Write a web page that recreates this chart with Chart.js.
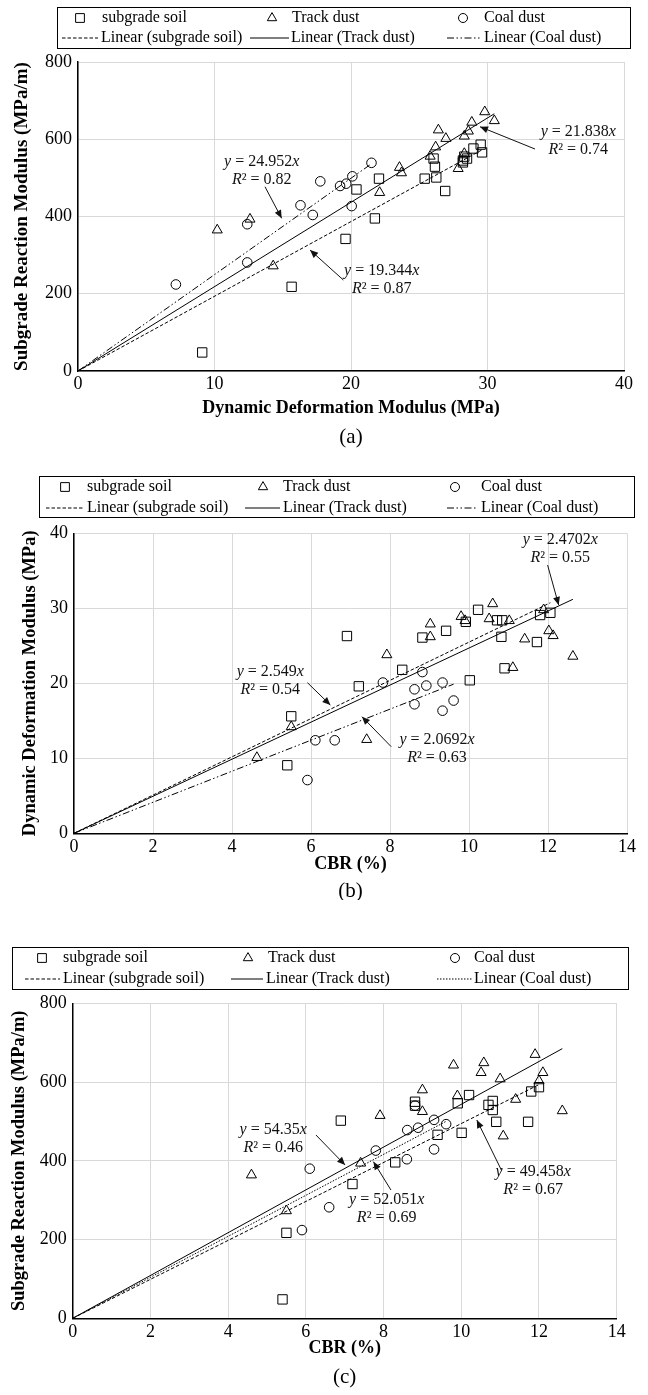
<!DOCTYPE html>
<html><head><meta charset="utf-8">
<script src="https://cdn.jsdelivr.net/npm/chart.js@4.4.1/dist/chart.umd.min.js"></script>
<style>
html,body{margin:0;padding:0;background:#fff;}
body{width:648px;height:1395px;position:relative;overflow:hidden;}
canvas{position:absolute;left:0;}
</style></head><body>
<canvas id="chartA" width="648" height="460" style="top:0px"></canvas>
<canvas id="chartB" width="648" height="440" style="top:460px"></canvas>
<canvas id="chartC" width="648" height="495" style="top:900px"></canvas>
<script>
// ---------------- DATA ----------------
const seriesNames = ['subgrade soil', 'Track dust', 'Coal dust'];
const trendNames = ['Linear (subgrade soil)', 'Linear (Track dust)', 'Linear (Coal dust)'];

// (a) x: Dynamic Deformation Modulus (MPa), y: Subgrade Reaction Modulus (MPa/m)
const subgradeA = [[9.1,48],[15.65,218],[19.6,342],[20.4,470],[21.75,395],[22.05,498],[25.4,498],[26.05,550],[26.15,529],[26.25,501],[26.9,466],[28.2,545],[28.3,555],[28.5,550],[28.2,540],[28.97,576],[29.5,586],[29.6,566]];
const trackA = [[10.2,365],[12.6,393],[14.3,272],[22.1,462],[23.55,527],[23.7,513],[25.8,556],[26.2,580],[26.4,624],[26.95,602],[27.85,524],[28.3,563],[28.3,608],[28.6,621],[28.85,644],[29.8,671],[30.5,648]];
const coalA = [[7.17,224],[12.4,380],[12.4,281],[16.3,429],[17.2,404],[17.75,491],[19.2,479],[19.65,485],[20.1,504],[20.05,427],[21.5,539]];
const slopesA = [19.344, 21.838, 24.952];
const r2A = [0.87, 0.74, 0.82];
const xTicksA = [0, 10, 20, 30, 40];
const yTicksA = [0, 200, 400, 600, 800];

// (b) x: CBR (%), y: Dynamic Deformation Modulus (MPa)
const subgradeB = [[6.91,26.3],[7.21,19.6],[5.5,15.6],[5.4,9.07],[8.31,21.8],[8.82,26.1],[9.42,27.0],[10.23,29.8],[9.92,28.2],[10.71,28.4],[10.84,28.4],[10.82,26.2],[10.9,22.0],[10.02,20.4],[11.72,25.5],[11.8,29.1],[12.06,29.4]];
const trackB = [[4.63,10.1],[5.5,14.2],[7.41,12.5],[7.92,23.8],[9.02,27.9],[9.02,26.2],[9.8,28.9],[9.9,28.35],[10.6,30.6],[10.51,28.6],[11.02,28.35],[11.11,22.1],[11.41,25.9],[11.89,29.8],[12.02,27.0],[12.13,26.35],[12.63,23.6]];
const coalB = [[6.11,12.4],[6.6,12.4],[5.91,7.1],[7.82,20.1],[8.82,21.5],[8.62,19.2],[8.92,19.7],[9.33,20.1],[8.62,17.2],[9.33,16.35],[9.61,17.7]];
const slopesB = [2.549, 2.4702, 2.0692];
const r2B = [0.54, 0.55, 0.63];
const xTicksB = [0, 2, 4, 6, 8, 10, 12, 14];
const yTicksB = [0, 10, 20, 30, 40];

// (c) x: CBR (%), y: Subgrade Reaction Modulus (MPa/m)
const subgradeC = [[6.9,502],[7.2,341],[5.5,217],[5.4,48],[8.3,396],[8.81,550],[8.81,540],[9.39,466],[9.91,546],[10.2,567],[10.01,471],[10.7,542],[10.81,552],[10.81,529],[10.9,499],[11.72,499],[11.8,576],[12.0,587]];
const trackC = [[4.6,364],[5.5,273],[7.41,394],[7.91,515],[9.0,580],[9.0,525],[9.8,643],[9.9,565],[10.58,649],[10.51,624],[11.0,608],[11.08,463],[11.4,556],[11.9,670],[12.1,624],[12.0,603],[12.6,527]];
const coalC = [[6.1,380],[6.6,282],[5.9,224],[7.8,426],[8.61,478],[8.89,484],[9.3,504],[9.61,493],[8.6,404],[9.3,429],[8.81,540]];
const slopesC = [49.458, 54.35, 52.051];
const r2C = [0.67, 0.46, 0.69];
const xTicksC = [0, 2, 4, 6, 8, 10, 12, 14];
const yTicksC = [0, 200, 400, 600, 800];

// ---------------- STYLE / HELPERS ----------------
const FONT = '"Liberation Serif", "Times New Roman", Times, serif';
Chart.defaults.font.family = FONT;
Chart.defaults.color = '#000';

const DASH_SUB = [3.5, 2];
const DASH_DASHDOT = [7, 2.5, 1.5, 2.5, 1.5, 2.5];
const DASH_DOT = [1.5, 1.5];

function pts(arr) { return arr.map(p => ({x: p[0], y: p[1]})); }
function trend(arr, slope) {
  const xm = Math.max(...arr.map(p => p[0]));
  return [{x: 0, y: 0}, {x: xm, y: slope * xm}];
}
function makeDatasets(sub, trk, coal, slopes, coalDash) {
  const mk = (label, data, style, r) => ({
    label, data: pts(data), pointStyle: style, pointRadius: r, pointHoverRadius: r,
    borderColor: '#000', backgroundColor: 'rgba(0,0,0,0)', pointBorderWidth: 1, borderWidth: 1, showLine: false
  });
  const ln = (label, data, slope, dash) => ({
    label, data: trend(data, slope), showLine: true, pointRadius: 0, pointHoverRadius: 0,
    borderColor: '#000', backgroundColor: 'rgba(0,0,0,0)', borderWidth: 1, borderDash: dash, fill: false, tension: 0
  });
  return [
    mk(seriesNames[0], sub, 'rect', 6.6),
    mk(seriesNames[1], trk, 'triangle', 5.8),
    mk(seriesNames[2], coal, 'circle', 4.8),
    ln(trendNames[0], sub, slopes[0], DASH_SUB),
    ln(trendNames[1], trk, slopes[1], []),
    ln(trendNames[2], coal, slopes[2], coalDash)
  ];
}

function drawMarker(ctx, style, x, y, r) {
  ctx.beginPath();
  if (style === 'rect') {
    const s = r * Math.SQRT1_2; ctx.rect(x - s, y - s, 2 * s, 2 * s);
  } else if (style === 'triangle') {
    const a = 2 * Math.PI / 3;
    ctx.moveTo(x, y - r);
    ctx.lineTo(x + r * Math.sin(a), y - r * Math.cos(a));
    ctx.lineTo(x + r * Math.sin(2 * a), y - r * Math.cos(2 * a));
    ctx.closePath();
  } else {
    ctx.arc(x, y, r, 0, 2 * Math.PI);
  }
  ctx.stroke();
}
function drawRich(ctx, segs, cx, cy, size) {
  const fonts = segs.map(s => (s[1] ? 'italic ' : '') + size + 'px ' + FONT);
  let w = 0;
  const ws = segs.map((s, i) => { ctx.font = fonts[i]; const m = ctx.measureText(s[0]).width; w += m; return m; });
  let x = cx - w / 2;
  ctx.textAlign = 'left'; ctx.textBaseline = 'middle';
  segs.forEach((s, i) => { ctx.font = fonts[i]; ctx.fillText(s[0], x, cy); x += ws[i]; });
}
function drawArrow(ctx, x0, y0, x1, y1) {
  ctx.setLineDash([]); ctx.lineWidth = 1;
  ctx.beginPath(); ctx.moveTo(x0, y0); ctx.lineTo(x1, y1); ctx.stroke();
  const a = Math.atan2(y1 - y0, x1 - x0), L = 8, W = 3.5;
  ctx.beginPath();
  ctx.moveTo(x1, y1);
  ctx.lineTo(x1 - L * Math.cos(a) + W * Math.sin(a), y1 - L * Math.sin(a) - W * Math.cos(a));
  ctx.lineTo(x1 - L * Math.cos(a) - W * Math.sin(a), y1 - L * Math.sin(a) + W * Math.cos(a));
  ctx.closePath(); ctx.fill();
}

const overlay = {
  id: 'overlay',
  afterDraw(chart, args, o) {
    const ctx = chart.ctx;
    const ds = chart.data.datasets;
    ctx.save();
    ctx.strokeStyle = '#000'; ctx.fillStyle = '#000'; ctx.lineWidth = 1;
    // legend box
    const L = o.legend;
    ctx.setLineDash([]);
    ctx.strokeRect(L.x0 + 0.5, L.y0 + 0.5, L.x1 - L.x0, L.y1 - L.y0);
    ctx.font = '16px ' + FONT; ctx.textBaseline = 'middle'; ctx.textAlign = 'left';
    for (let c = 0; c < 3; c++) {
      const col = L.cols[c];
      const p = ds[c], t = ds[c + 3];
      ctx.setLineDash([]); ctx.lineWidth = 1;
      drawMarker(ctx, p.pointStyle, col.m, L.rows[0], p.pointStyle === 'rect' ? 6.2 : (p.pointStyle === 'triangle' ? 5.4 : 4.5));
      ctx.fillText(p.label, col.t, L.rows[0]);
      ctx.setLineDash(t.borderDash || []);
      ctx.beginPath(); ctx.moveTo(col.s0, L.rows[1]); ctx.lineTo(col.s1, L.rows[1]); ctx.stroke();
      ctx.setLineDash([]);
      ctx.fillText(t.label, col.t2, L.rows[1]);
    }
    // equation annotations
    const xs = chart.scales.x, ys = chart.scales.y;
    ctx.fillStyle = '#111'; ctx.strokeStyle = '#111';
    o.notes.forEach(n => {
      const cx = xs.getPixelForValue(n.at[0]), cy = ys.getPixelForValue(n.at[1]);
      drawRich(ctx, [['y', true], [' = ' + o.slopes[n.ds], false], ['x', true]], cx, cy, 16);
      drawRich(ctx, [['R', true], ['² = ' + o.r2[n.ds], false]], cx, cy + 18, 16);
      drawArrow(ctx, xs.getPixelForValue(n.from[0]), ys.getPixelForValue(n.from[1]),
                     xs.getPixelForValue(n.to[0]), ys.getPixelForValue(n.to[1]));
    });
    // caption
    ctx.fillStyle = '#000';
    ctx.font = '21px ' + FONT; ctx.textAlign = 'center'; ctx.textBaseline = 'middle';
    ctx.fillText(o.caption, (chart.chartArea.left + chart.chartArea.right) / 2, o.captionY);
    ctx.restore();
  }
};

function buildChart(id, c) {
  return new Chart(document.getElementById(id), {
    type: 'scatter',
    data: {datasets: c.datasets},
    options: {
      responsive: false, animation: false, devicePixelRatio: 1,
      layout: {padding: c.padding},
      plugins: {legend: {display: false}, tooltip: {enabled: false}, overlay: c.overlay},
      scales: {
        x: {
          type: 'linear', min: c.xTicks[0], max: c.xTicks[c.xTicks.length - 1],
          afterBuildTicks: s => { s.ticks = c.xTicks.map(v => ({value: v})); },
          afterFit: s => { s.height = c.xH; },
          grid: {color: '#d9d9d9', lineWidth: 1, drawTicks: false},
          border: {color: '#000', width: 1.5},
          ticks: {padding: c.xPad, font: {size: 18}, color: '#000', maxRotation: 0, autoSkip: false},
          title: {display: true, text: c.xTitle, color: '#000', font: {size: 18, weight: 'bold'}, padding: {top: 0, bottom: 0}}
        },
        y: {
          type: 'linear', min: c.yTicks[0], max: c.yTicks[c.yTicks.length - 1],
          afterBuildTicks: s => { s.ticks = c.yTicks.map(v => ({value: v})); },
          afterFit: s => { s.width = c.yW; },
          grid: {color: '#d9d9d9', lineWidth: 1, drawTicks: false},
          border: {color: '#000', width: 1.5},
          ticks: {padding: 6, font: {size: 18}, color: '#000', autoSkip: false},
          title: {display: true, text: c.yTitle, color: '#000', font: {size: c.yTitleSize, weight: 'bold'}, padding: {top: c.yTitlePad, bottom: 0}}
        }
      }
    },
    plugins: [overlay]
  });
}

// ---------------- CHART (a) ----------------
buildChart('chartA', {
  datasets: makeDatasets(subgradeA, trackA, coalA, slopesA, DASH_DASHDOT),
  padding: {left: 6, top: 62, right: 24, bottom: 41},
  xTicks: xTicksA, yTicks: yTicksA, xH: 48, yW: 72, xPad: 2,
  xTitle: 'Dynamic Deformation Modulus (MPa)', yTitle: 'Subgrade Reaction Modulus (MPa/m)',
  yTitleSize: 19, yTitlePad: 5,
  overlay: {
    legend: {x0: 57, x1: 630, y0: 7, y1: 48, rows: [18, 38],
      cols: [{m: 80, t: 102, s0: 62, s1: 98, t2: 101}, {m: 272, t: 292, s0: 250, s1: 289, t2: 291}, {m: 463, t: 484, s0: 447, s1: 481, t2: 484}]},
    slopes: slopesA, r2: r2A,
    notes: [
      {ds: 2, at: [13.46, 541.8], from: [13.7, 477], to: [14.92, 395.3]},
      {ds: 0, at: [22.25, 259.6], from: [19.44, 235.6], to: [17.0, 313.2]},
      {ds: 1, at: [36.65, 619.5], from: [33.48, 574.7], to: [29.45, 632.4]}
    ],
    caption: '(a)', captionY: 437
  }
});

// ---------------- CHART (b) ----------------
buildChart('chartB', {
  datasets: makeDatasets(subgradeB, trackB, coalB, slopesB, DASH_DASHDOT),
  padding: {left: 14, top: 73.3, right: 21, bottom: 25.2},
  xTicks: xTicksB, yTicks: yTicksB, xH: 41.5, yW: 60, xPad: 3,
  xTitle: 'CBR (%)', yTitle: 'Dynamic Deformation Modulus (MPa)',
  yTitleSize: 18.5, yTitlePad: 5,
  overlay: {
    legend: {x0: 39, x1: 634, y0: 16, y1: 57, rows: [27, 48],
      cols: [{m: 65, t: 87, s0: 46, s1: 83, t2: 87}, {m: 263, t: 283, s0: 245, s1: 280, t2: 283}, {m: 455, t: 481, s0: 447, s1: 478, t2: 481}]},
    slopes: slopesB, r2: r2B,
    notes: [
      {ds: 0, at: [4.97, 21.55], from: [5.91, 20.08], to: [6.49, 17.1]},
      {ds: 1, at: [12.31, 39.2], from: [11.99, 35.77], to: [12.27, 30.44]},
      {ds: 2, at: [9.19, 12.53], from: [8.03, 11.55], to: [7.29, 15.55]}
    ],
    caption: '(b)', captionY: 431
  }
});

// ---------------- CHART (c) ----------------
buildChart('chartC', {
  datasets: makeDatasets(subgradeC, trackC, coalC, slopesC, DASH_DOT),
  padding: {left: 4, top: 103.3, right: 31.3, bottom: 36.2},
  xTicks: xTicksC, yTicks: yTicksC, xH: 40.5, yW: 68.7, xPad: 3,
  xTitle: 'CBR (%)', yTitle: 'Subgrade Reaction Modulus (MPa/m)',
  yTitleSize: 18.5, yTitlePad: 4.4,
  overlay: {
    legend: {x0: 12, x1: 628, y0: 47, y1: 89, rows: [58, 79],
      cols: [{m: 42, t: 63, s0: 25, s1: 60, t2: 63}, {m: 248, t: 268, s0: 231, s1: 263, t2: 266}, {m: 455, t: 474, s0: 437, s1: 472, t2: 474}]},
    slopes: slopesC, r2: r2C,
    notes: [
      {ds: 1, at: [5.16, 480], from: [6.26, 465.5], to: [7.01, 389.3]},
      {ds: 2, at: [8.08, 302.2], from: [8.19, 325.8], to: [7.74, 397.7]},
      {ds: 0, at: [11.85, 372.3], from: [11.04, 374.9], to: [10.4, 503.6]}
    ],
    caption: '(c)', captionY: 477
  }
});
</script>
</body></html>
